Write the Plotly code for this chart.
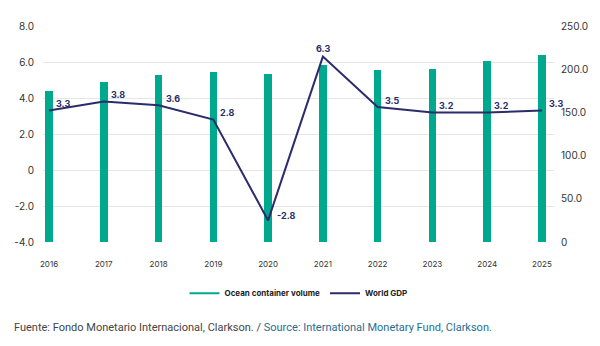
import plotly.graph_objects as go

years = [2016, 2017, 2018, 2019, 2020, 2021, 2022, 2023, 2024, 2025]
container_volume = [175, 185, 193, 197, 195, 205, 199, 200, 210, 217]
world_gdp = [3.3, 3.8, 3.6, 2.8, -2.8, 6.3, 3.5, 3.2, 3.2, 3.3]
gdp_labels = ["3.3", "3.8", "3.6", "2.8", "-2.8", "6.3", "3.5", "3.2", "3.2", "3.3"]
left_ticks = [-4, -2, 0, 2, 4, 6, 8]
left_ticktext = ["-4.0", "-2.0", "0", "2.0", "4.0", "6.0", "8.0"]
right_ticks = [0, 50, 100, 150, 200, 250]
right_ticktext = ["0", "50.0", "100.0", "150.0", "200.0", "250.0"]

TEAL = "#00a88e"
NAVY = "#2b2c6c"
FONT = "Inter, Roboto, Arial, sans-serif"

fig = go.Figure()
fig.add_trace(go.Bar(
    x=years, y=container_volume, yaxis="y", width=0.14,
    marker=dict(color=TEAL, line=dict(width=0)), showlegend=False,
    name="Ocean container volume", hoverinfo="skip"))
fig.add_trace(go.Scatter(
    x=[None], y=[None], mode="lines", line=dict(color=TEAL, width=2),
    name="Ocean container volume"))
fig.add_trace(go.Scatter(
    x=years, y=world_gdp, yaxis="y2", mode="lines",
    line=dict(color=NAVY, width=2), name="World GDP"))

# data labels
for i, (xv, yv, lab) in enumerate(zip(years, world_gdp, gdp_labels)):
    if i == 5:
        anchor, xs, ys = "center", 0, 8
    elif i == 4:
        anchor, xs, ys = "left", 7, 5
    else:
        anchor, xs, ys = "left", 5, 7
    fig.add_annotation(
        x=xv, y=yv, xref="x", yref="y2", text=lab, showarrow=False,
        xanchor=anchor, yanchor="middle", xshift=xs, yshift=ys,
        font=dict(family=FONT, size=9, color=NAVY, weight="bold"))

fig.update_layout(
    width=600, height=346,
    margin=dict(l=43, r=40, t=26, b=104),
    paper_bgcolor="white", plot_bgcolor="white",
    font=dict(family=FONT, color="#333333"),
    xaxis=dict(range=[2015.89, 2025.22], tickvals=years, ticktext=[str(y) for y in years],
               tickfont=dict(size=8, color="#333333"), showgrid=False, zeroline=False,
               showline=False, ticks="", ticklabelstandoff=16),
    yaxis2=dict(range=[-4, 8], tickvals=left_ticks, ticktext=left_ticktext,
                overlaying="y", side="left",
                tickfont=dict(size=10, color="#333333"), showgrid=True,
                gridcolor="#e6e6e6", gridwidth=1, zeroline=False, ticks="",
                ticklabelstandoff=8),
    yaxis=dict(range=[0, 250], tickvals=right_ticks, ticktext=right_ticktext,
               side="right", showgrid=False, zeroline=False,
               tickfont=dict(size=10, color="#333333"), ticks="",
               ticklabelstandoff=6),
    legend=dict(orientation="h", x=0.5, xanchor="center", y=-0.17, yanchor="top",
                font=dict(size=8, color="#222222", family=FONT, weight="bold"),
                itemwidth=30),
    bargap=0,
)
fig.add_annotation(
    xref="paper", yref="paper", x=-0.06, y=-0.395, xanchor="left", yanchor="middle",
    showarrow=False,
    text="<span style='color:#444444'>Fuente: Fondo Monetario Internacional, Clarkson. / </span>"
         "<span style='color:#1f6e93'>Source: International Monetary Fund, Clarkson.</span>",
    font=dict(size=11, family="Roboto, sans-serif"))

fig.write_html("out.html")
